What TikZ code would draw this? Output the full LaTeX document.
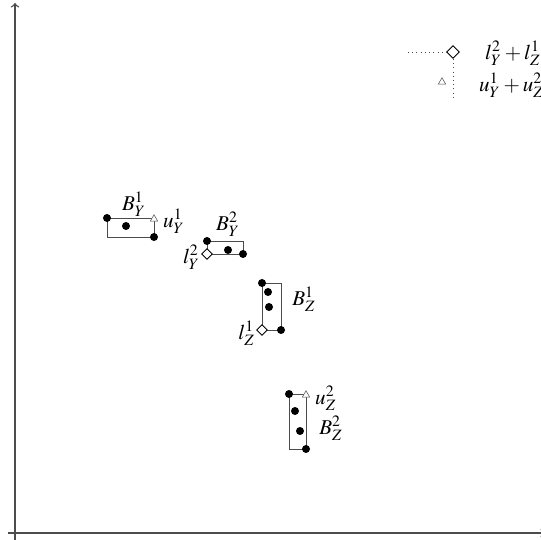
\documentclass[tikz,border=0pt]{standalone}
\usepackage{mathptmx}
\usetikzlibrary{shapes.geometric}
\begin{document}
\begin{tikzpicture}[x=0.02cm, y=-0.02cm, font=\large,
    puntino/.style={circle, fill=black, inner sep=0pt, minimum size=0.16cm},
    rombo/.style={diamond, draw=black, fill=white, line width=0.5pt, inner sep=0pt, minimum size=0.22cm},
    triangolo/.style={regular polygon, regular polygon sides=3, draw=black!70, fill=white, line width=0.3pt, inner sep=0pt, minimum size=0.17cm},
    scatola/.style={draw=black!70, line width=0.5pt}]
            \useasboundingbox (0, 0) rectangle (541, 540);
            %assi
            \draw[line width=0.8pt, black!70, ->] (15, 540) -- (15, 3);
            \draw[line width=0.8pt, black!70, ->] (8, 533) -- (545, 533);
            %scatole
            \draw[scatola] (107, 218) rectangle (154, 237);
            \draw[scatola] (207, 241) rectangle (243, 254);
            \draw[scatola] (262, 283) rectangle (281, 330);
            \draw[scatola] (289, 394) rectangle (306, 449);
            %punti
            \node[puntino] (y1a) at (107, 218) {};
            \node[puntino] (y1b) at (154, 237) {};
            \node[puntino] (y1c) at (126, 226) {};
            \node[puntino] (y2a) at (207, 241) {};
            \node[puntino] (y2b) at (243, 254) {};
            \node[puntino] (y2c) at (228, 250) {};
            \node[puntino] (z1a) at (262, 283) {};
            \node[puntino] (z1b) at (281, 330) {};
            \node[puntino] (z1c) at (268, 292) {};
            \node[puntino] (z1d) at (269, 307) {};
            \node[puntino] (z2a) at (289, 394) {};
            \node[puntino] (z2b) at (306, 449) {};
            \node[puntino] (z2c) at (295, 411) {};
            \node[puntino] (z2d) at (300, 431) {};
            %estremi
            \node[triangolo] (uy1) at (154, 219) {};
            \node[rombo] (ly2) at (207, 254) {};
            \node[rombo] (lz1) at (262, 330) {};
            \node[triangolo] (uz2) at (306, 395) {};
            %etichette
            \node at (134, 204) {$B_Y^1$};
            \node[anchor=west] at (157, 221) {$u_Y^1$};
            \node at (228, 224) {$B_Y^2$};
            \node[anchor=east] at (206, 257) {$l_Y^2$};
            \node at (304, 299) {$B_Z^1$};
            \node[anchor=east] at (261, 333) {$l_Z^1$};
            \node[anchor=west] at (309, 398) {$u_Z^2$};
            \node at (331, 428) {$B_Z^2$};
            %legenda
            \node[rombo, minimum size=0.26cm] (ls) at (453, 52) {};
            \node[triangolo] (us) at (442, 82) {};
            \coordinate (lsx) at (408, 52);
            \coordinate (lsy) at (453, 100);
            \draw[dotted, black!70] (lsx) -- (ls);
            \draw[dotted, black!70] (ls) -- (lsy);
            \node[anchor=west] at (479, 53) {$l_Y^2 + l_Z^1$};
            \node[anchor=west] at (473, 85) {$u_Y^1 + u_Z^2$};
        \end{tikzpicture}
\end{document}
